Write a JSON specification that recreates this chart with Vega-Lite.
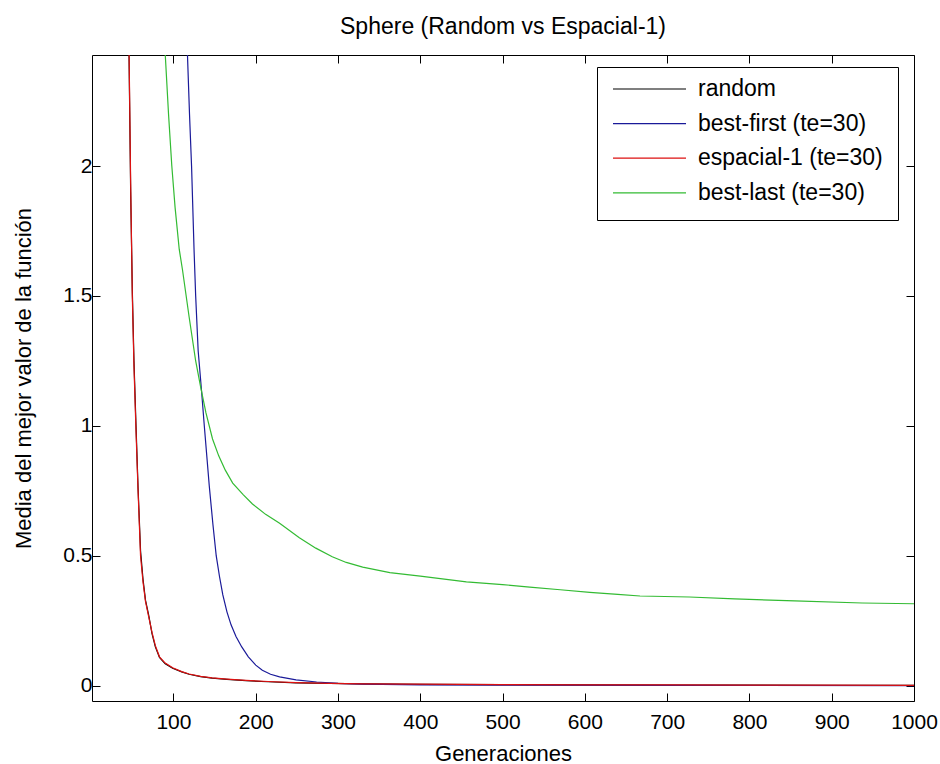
{
  "$schema": "https://vega.github.io/schema/vega-lite/v6.json",
  "width": 822,
  "height": 646,
  "autosize": {"type": "none"},
  "padding": {"left": 92, "top": 55, "right": 26, "bottom": 63},
  "background": "white",
  "config": {
    "font": "Liberation Sans",
    "view": {"stroke": null},
    "axis": {"grid": false, "domainColor": "black", "domainWidth": 1, "tickColor": "black", "tickWidth": 1, "labelColor": "black", "titleColor": "black", "labelFont": "Liberation Sans", "titleFont": "Liberation Sans", "labelFontSize": 21, "titleFontSize": 22, "titleFontWeight": "normal"}
  },
  "title": {"text": "Sphere (Random vs Espacial-1)", "fontSize": 23, "fontWeight": "normal", "font": "Liberation Sans", "color": "black", "offset": 16},
  "data": {"values": [
    {"s": "random", "gen": 30, "val": 6.0}, {"s": "random", "gen": 40, "val": 3.6}, {"s": "random", "gen": 44, "val": 2.85}, {"s": "random", "gen": 46, "val": 2.43}, {"s": "random", "gen": 48, "val": 1.9}, {"s": "random", "gen": 50, "val": 1.52}, {"s": "random", "gen": 52, "val": 1.25}, {"s": "random", "gen": 54.5, "val": 1.0}, {"s": "random", "gen": 57, "val": 0.76}, {"s": "random", "gen": 60, "val": 0.52}, {"s": "random", "gen": 63, "val": 0.41}, {"s": "random", "gen": 66, "val": 0.33}, {"s": "random", "gen": 70, "val": 0.27}, {"s": "random", "gen": 74, "val": 0.2}, {"s": "random", "gen": 78, "val": 0.15}, {"s": "random", "gen": 83, "val": 0.11}, {"s": "random", "gen": 90, "val": 0.085}, {"s": "random", "gen": 99, "val": 0.068}, {"s": "random", "gen": 110, "val": 0.054}, {"s": "random", "gen": 119, "val": 0.045}, {"s": "random", "gen": 133, "val": 0.036}, {"s": "random", "gen": 147, "val": 0.03}, {"s": "random", "gen": 165, "val": 0.025}, {"s": "random", "gen": 188, "val": 0.02}, {"s": "random", "gen": 215, "val": 0.016}, {"s": "random", "gen": 249, "val": 0.012}, {"s": "random", "gen": 290, "val": 0.01}, {"s": "random", "gen": 330, "val": 0.008}, {"s": "random", "gen": 400, "val": 0.006}, {"s": "random", "gen": 500, "val": 0.005}, {"s": "random", "gen": 600, "val": 0.004}, {"s": "random", "gen": 700, "val": 0.003}, {"s": "random", "gen": 800, "val": 0.003}, {"s": "random", "gen": 900, "val": 0.002}, {"s": "random", "gen": 1000, "val": 0.002},
    {"s": "best-first (te=30)", "gen": 100, "val": 4.5}, {"s": "best-first (te=30)", "gen": 110, "val": 3.2}, {"s": "best-first (te=30)", "gen": 117, "val": 2.43}, {"s": "best-first (te=30)", "gen": 119.5, "val": 2.2}, {"s": "best-first (te=30)", "gen": 122, "val": 2.0}, {"s": "best-first (te=30)", "gen": 125, "val": 1.68}, {"s": "best-first (te=30)", "gen": 127, "val": 1.5}, {"s": "best-first (te=30)", "gen": 130, "val": 1.29}, {"s": "best-first (te=30)", "gen": 134, "val": 1.14}, {"s": "best-first (te=30)", "gen": 137.5, "val": 1.0}, {"s": "best-first (te=30)", "gen": 143.5, "val": 0.77}, {"s": "best-first (te=30)", "gen": 148, "val": 0.62}, {"s": "best-first (te=30)", "gen": 152, "val": 0.5}, {"s": "best-first (te=30)", "gen": 156, "val": 0.42}, {"s": "best-first (te=30)", "gen": 160, "val": 0.35}, {"s": "best-first (te=30)", "gen": 165, "val": 0.285}, {"s": "best-first (te=30)", "gen": 170, "val": 0.235}, {"s": "best-first (te=30)", "gen": 176, "val": 0.19}, {"s": "best-first (te=30)", "gen": 183, "val": 0.15}, {"s": "best-first (te=30)", "gen": 191, "val": 0.112}, {"s": "best-first (te=30)", "gen": 200, "val": 0.08}, {"s": "best-first (te=30)", "gen": 208, "val": 0.06}, {"s": "best-first (te=30)", "gen": 218, "val": 0.045}, {"s": "best-first (te=30)", "gen": 229, "val": 0.035}, {"s": "best-first (te=30)", "gen": 249, "val": 0.023}, {"s": "best-first (te=30)", "gen": 274, "val": 0.015}, {"s": "best-first (te=30)", "gen": 300, "val": 0.01}, {"s": "best-first (te=30)", "gen": 330, "val": 0.007}, {"s": "best-first (te=30)", "gen": 400, "val": 0.004}, {"s": "best-first (te=30)", "gen": 500, "val": 0.003}, {"s": "best-first (te=30)", "gen": 700, "val": 0.002}, {"s": "best-first (te=30)", "gen": 1000, "val": 0.001},
    {"s": "espacial-1 (te=30)", "gen": 30, "val": 6.1}, {"s": "espacial-1 (te=30)", "gen": 40, "val": 3.7}, {"s": "espacial-1 (te=30)", "gen": 44, "val": 2.9}, {"s": "espacial-1 (te=30)", "gen": 46, "val": 2.45}, {"s": "espacial-1 (te=30)", "gen": 48, "val": 1.93}, {"s": "espacial-1 (te=30)", "gen": 50, "val": 1.5}, {"s": "espacial-1 (te=30)", "gen": 52, "val": 1.23}, {"s": "espacial-1 (te=30)", "gen": 54.5, "val": 0.98}, {"s": "espacial-1 (te=30)", "gen": 57, "val": 0.75}, {"s": "espacial-1 (te=30)", "gen": 60, "val": 0.5}, {"s": "espacial-1 (te=30)", "gen": 63, "val": 0.4}, {"s": "espacial-1 (te=30)", "gen": 66, "val": 0.325}, {"s": "espacial-1 (te=30)", "gen": 70, "val": 0.265}, {"s": "espacial-1 (te=30)", "gen": 74, "val": 0.205}, {"s": "espacial-1 (te=30)", "gen": 78, "val": 0.155}, {"s": "espacial-1 (te=30)", "gen": 83, "val": 0.112}, {"s": "espacial-1 (te=30)", "gen": 90, "val": 0.088}, {"s": "espacial-1 (te=30)", "gen": 99, "val": 0.07}, {"s": "espacial-1 (te=30)", "gen": 110, "val": 0.055}, {"s": "espacial-1 (te=30)", "gen": 119, "val": 0.046}, {"s": "espacial-1 (te=30)", "gen": 133, "val": 0.037}, {"s": "espacial-1 (te=30)", "gen": 147, "val": 0.031}, {"s": "espacial-1 (te=30)", "gen": 165, "val": 0.026}, {"s": "espacial-1 (te=30)", "gen": 188, "val": 0.021}, {"s": "espacial-1 (te=30)", "gen": 215, "val": 0.017}, {"s": "espacial-1 (te=30)", "gen": 249, "val": 0.013}, {"s": "espacial-1 (te=30)", "gen": 290, "val": 0.01}, {"s": "espacial-1 (te=30)", "gen": 330, "val": 0.008}, {"s": "espacial-1 (te=30)", "gen": 400, "val": 0.007}, {"s": "espacial-1 (te=30)", "gen": 500, "val": 0.005}, {"s": "espacial-1 (te=30)", "gen": 600, "val": 0.004}, {"s": "espacial-1 (te=30)", "gen": 700, "val": 0.004}, {"s": "espacial-1 (te=30)", "gen": 800, "val": 0.003}, {"s": "espacial-1 (te=30)", "gen": 900, "val": 0.003}, {"s": "espacial-1 (te=30)", "gen": 1000, "val": 0.002},
    {"s": "best-last (te=30)", "gen": 70, "val": 4.5}, {"s": "best-last (te=30)", "gen": 80, "val": 3.4}, {"s": "best-last (te=30)", "gen": 85, "val": 2.8}, {"s": "best-last (te=30)", "gen": 90, "val": 2.43}, {"s": "best-last (te=30)", "gen": 94, "val": 2.2}, {"s": "best-last (te=30)", "gen": 98, "val": 2.0}, {"s": "best-last (te=30)", "gen": 102, "val": 1.84}, {"s": "best-last (te=30)", "gen": 107, "val": 1.68}, {"s": "best-last (te=30)", "gen": 111, "val": 1.6}, {"s": "best-last (te=30)", "gen": 119, "val": 1.42}, {"s": "best-last (te=30)", "gen": 127, "val": 1.25}, {"s": "best-last (te=30)", "gen": 133, "val": 1.15}, {"s": "best-last (te=30)", "gen": 139.5, "val": 1.05}, {"s": "best-last (te=30)", "gen": 147.5, "val": 0.95}, {"s": "best-last (te=30)", "gen": 155, "val": 0.885}, {"s": "best-last (te=30)", "gen": 163, "val": 0.83}, {"s": "best-last (te=30)", "gen": 172, "val": 0.78}, {"s": "best-last (te=30)", "gen": 185, "val": 0.735}, {"s": "best-last (te=30)", "gen": 196, "val": 0.7}, {"s": "best-last (te=30)", "gen": 212, "val": 0.66}, {"s": "best-last (te=30)", "gen": 229, "val": 0.626}, {"s": "best-last (te=30)", "gen": 253, "val": 0.57}, {"s": "best-last (te=30)", "gen": 273, "val": 0.53}, {"s": "best-last (te=30)", "gen": 293, "val": 0.497}, {"s": "best-last (te=30)", "gen": 310, "val": 0.475}, {"s": "best-last (te=30)", "gen": 330, "val": 0.457}, {"s": "best-last (te=30)", "gen": 363, "val": 0.436}, {"s": "best-last (te=30)", "gen": 400, "val": 0.422}, {"s": "best-last (te=30)", "gen": 456, "val": 0.4}, {"s": "best-last (te=30)", "gen": 500, "val": 0.39}, {"s": "best-last (te=30)", "gen": 533, "val": 0.38}, {"s": "best-last (te=30)", "gen": 570, "val": 0.37}, {"s": "best-last (te=30)", "gen": 606, "val": 0.36}, {"s": "best-last (te=30)", "gen": 640, "val": 0.352}, {"s": "best-last (te=30)", "gen": 667, "val": 0.346}, {"s": "best-last (te=30)", "gen": 727, "val": 0.342}, {"s": "best-last (te=30)", "gen": 782, "val": 0.335}, {"s": "best-last (te=30)", "gen": 855, "val": 0.327}, {"s": "best-last (te=30)", "gen": 937, "val": 0.319}, {"s": "best-last (te=30)", "gen": 1000, "val": 0.316}
  ]},
  "layer": [
    {
      "mark": {"type": "line", "strokeWidth": 1.2, "clip": true, "interpolate": "linear"},
      "encoding": {
        "x": {"field": "gen", "type": "quantitative", "scale": {"domain": [1, 1000], "nice": false, "zero": false},
          "axis": {"title": "Generaciones", "values": [100, 200, 300, 400, 500, 600, 700, 800, 900, 1000], "format": "d", "tickSize": -8, "labelPadding": 18, "titlePadding": 11, "labelFlush": false}},
        "y": {"field": "val", "type": "quantitative", "scale": {"domain": [-0.058, 2.427], "nice": false, "zero": false},
          "axis": {"title": "Media del mejor valor de la función", "values": [0, 0.5, 1, 1.5, 2], "tickSize": -8, "labelPadding": 8, "titlePadding": 27, "labelFlush": false, "format": "~g"}},
        "color": {"field": "s", "type": "nominal", "sort": null,
          "scale": {"domain": ["random", "best-first (te=30)", "espacial-1 (te=30)", "best-last (te=30)"], "range": ["#000000", "#1a1a99", "#dd1111", "#33bb33"]},
          "legend": {"title": null, "orient": "none", "legendX": 505, "legendY": 12, "symbolType": "stroke", "symbolSize": 5329, "symbolStrokeWidth": 1.2, "labelFontSize": 23, "labelFont": "Liberation Sans", "labelColor": "black", "labelOffset": 11, "padding": 15, "clipHeight": 14, "rowPadding": 11.6, "strokeColor": "black", "fillColor": "white", "cornerRadius": 0, "labelLimit": 400}}
      }
    },
    {
      "mark": {"type": "line", "strokeOpacity": 0, "clip": true},
      "encoding": {
        "x": {"field": "gen", "type": "quantitative", "axis": {"orient": "top", "title": null, "labels": false, "values": [100, 200, 300, 400, 500, 600, 700, 800, 900, 1000], "tickSize": -8}},
        "y": {"field": "val", "type": "quantitative", "axis": {"orient": "right", "title": null, "labels": false, "values": [0, 0.5, 1, 1.5, 2], "tickSize": -8}},
        "detail": {"field": "s"}
      }
    }
  ],
  "resolve": {"axis": {"x": "independent", "y": "independent"}}
}
